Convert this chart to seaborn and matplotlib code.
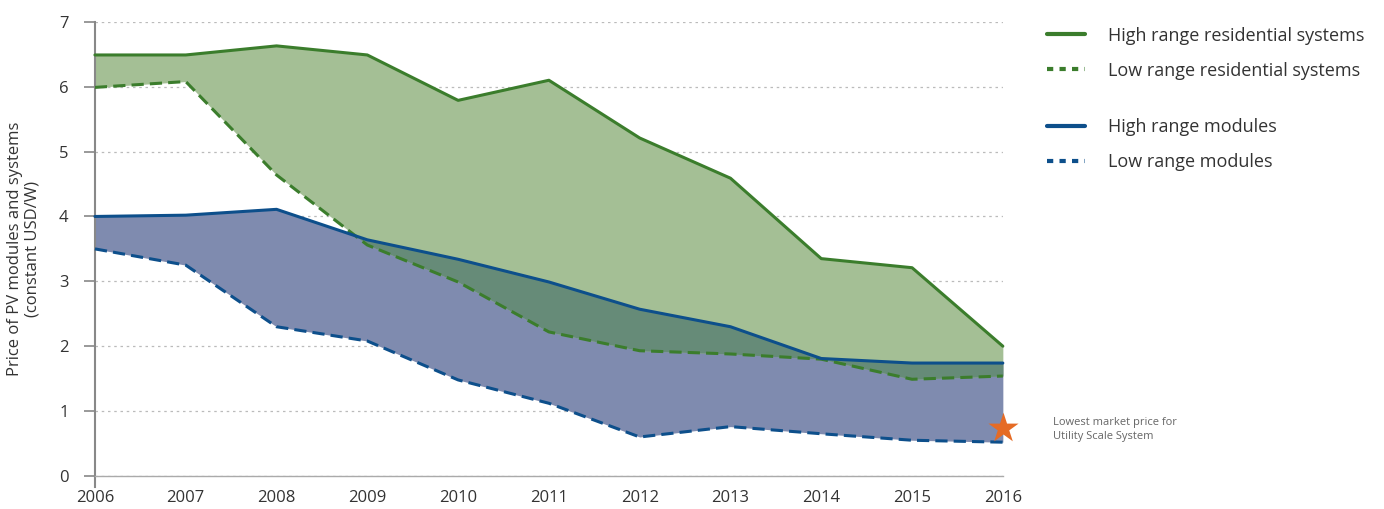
import numpy as np
import pandas as pd
import matplotlib
matplotlib.use("Agg")
import matplotlib.pyplot as plt
import seaborn as sns
from matplotlib.lines import Line2D

# values (constant USD/W)
years = [2006, 2007, 2008, 2009, 2010, 2011, 2012, 2013, 2014, 2015, 2016]
high_res = [6.49, 6.49, 6.63, 6.49, 5.79, 6.10, 5.21, 4.59, 3.35, 3.21, 2.00]
low_res = [5.99, 6.08, 4.64, 3.56, 2.99, 2.22, 1.93, 1.88, 1.80, 1.49, 1.54]
high_mod = [4.00, 4.02, 4.11, 3.64, 3.34, 2.99, 2.57, 2.30, 1.81, 1.74, 1.74]
low_mod = [3.50, 3.25, 2.30, 2.08, 1.48, 1.12, 0.60, 0.76, 0.65, 0.55, 0.52]
lowest_utility = (2016, 0.74)

GREEN = "#3b7d2c"
BLUE = "#0d4f8b"
GREEN_FILL = "#a4bf95"
BLUE_FILL = "#7f8baf"
OVERLAP_FILL = "#668b78"
TEXT = "#333333"

sns.set_style("white")
plt.rcParams["font.family"] = ["Open Sans", "DejaVu Sans"]

df = pd.DataFrame({
    "year": years * 4,
    "price": high_res + low_res + high_mod + low_mod,
    "series": (["High range residential systems"] * 11 + ["Low range residential systems"] * 11
               + ["High range modules"] * 11 + ["Low range modules"] * 11),
})

fig = plt.figure(figsize=(13.84, 5.09), dpi=100)
ax = fig.add_axes([0.0686, 0.065, 0.656, 0.892])

yr = np.array(years)
hr, lr, hm, lm = map(np.array, (high_res, low_res, high_mod, low_mod))

# shaded bands
ax.fill_between(yr, lm, hm, color=BLUE_FILL, lw=0, zorder=1, clip_on=False)
ax.fill_between(yr, lr, hr, color=GREEN_FILL, lw=0, zorder=1.5, clip_on=False)
lo = np.maximum(lr, lm)
hi = np.minimum(hr, hm)
ax.fill_between(yr, lo, hi, where=hi > lo, interpolate=True,
                color=OVERLAP_FILL, lw=0, zorder=2, clip_on=False)

palette = {
    "High range residential systems": GREEN,
    "Low range residential systems": GREEN,
    "High range modules": BLUE,
    "Low range modules": BLUE,
}
dashes = {
    "High range residential systems": "",
    "Low range residential systems": (4, 2),
    "High range modules": "",
    "Low range modules": (4, 2),
}
sns.lineplot(data=df, x="year", y="price", hue="series", style="series",
             palette=palette, dashes=dashes, linewidth=2.2, ax=ax,
             legend=False, zorder=3, clip_on=False)

# marker for the utility scale system price
ax.scatter([lowest_utility[0]], [lowest_utility[1]], marker="*", s=520,
           color="#e56b25", zorder=5, clip_on=False, linewidths=0)
ax.annotate("Lowest market price for\nUtility Scale System",
            xy=lowest_utility, xytext=(36, -1), textcoords="offset points",
            va="center", ha="left", fontsize=8, color="#666666",
            linespacing=1.3, annotation_clip=False)

ax.set_xlim(2006, 2016)
ax.set_ylim(0, 7)
ax.set_xticks(years)
ax.set_xticklabels([str(y) for y in years])
ax.set_yticks(range(0, 8))
ax.tick_params(axis="y", which="major", direction="out", length=8, width=1.2,
               color="#888888", labelsize=12, labelcolor=TEXT, pad=11, left=True)
ax.tick_params(axis="x", length=0, labelsize=12, labelcolor=TEXT, pad=10)
ax.yaxis.grid(True, linestyle=(0, (2, 3)), color="#bbbbbb", linewidth=0.9)
ax.set_axisbelow(True)

for s in ["top", "right"]:
    ax.spines[s].set_visible(False)
ax.spines["left"].set_color("#888888")
ax.spines["left"].set_linewidth(1.5)
ax.spines["left"].set_bounds(-0.17, 7)
ax.spines["bottom"].set_color("#aaaaaa")
ax.spines["bottom"].set_linewidth(1.0)

ax.set_xlabel("")
ax.set_ylabel("Price of PV modules and systems\n(constant USD/W)",
              fontsize=12, color=TEXT, labelpad=13, linespacing=1.15)

# legends, in two groups like the reference
res_handles = [Line2D([], [], color=GREEN, lw=3),
               Line2D([], [], color=GREEN, lw=3, dashes=(1.5, 1.5))]
mod_handles = [Line2D([], [], color=BLUE, lw=3),
               Line2D([], [], color=BLUE, lw=3, dashes=(1.5, 1.5))]
leg_kw = dict(frameon=False, fontsize=13, handlelength=2.1, handletextpad=1.3,
              labelspacing=0.95, labelcolor=TEXT, borderaxespad=0)
fig.legend(res_handles, ["High range residential systems", "Low range residential systems"],
           loc="upper left", bbox_to_anchor=(0.751, 0.962), **leg_kw)
fig.legend(mod_handles, ["High range modules", "Low range modules"],
           loc="upper left", bbox_to_anchor=(0.751, 0.782), **leg_kw)

fig.savefig("out.png", dpi=100)
